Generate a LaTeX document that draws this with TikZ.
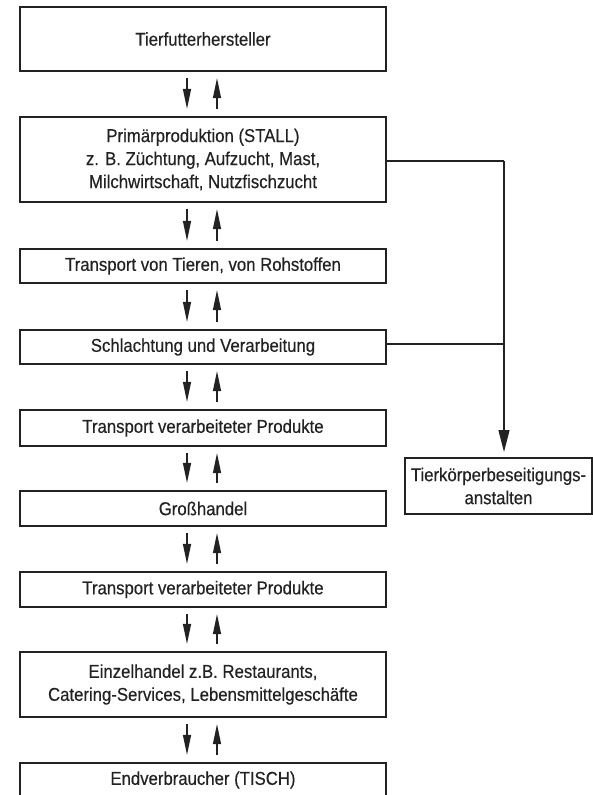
\documentclass[tikz,border=0pt]{standalone}
\usepackage{fontspec}
\setmainfont[FakeStretch=0.9,FakeBold=0.4]{Liberation Sans}
\usetikzlibrary{arrows.meta}
\definecolor{ink}{HTML}{222222}
\begin{document}
\begin{tikzpicture}[x=1pt,y=-1pt,
  box/.style={draw=ink, line width=2.2pt, minimum width=366pt, align=center, inner sep=0pt, text=ink, font=\fontsize{18.6}{23}\selectfont},
  sidebox/.style={draw=ink, line width=2pt, minimum width=187pt, minimum height=56pt, align=center, inner sep=0pt, text=ink, font=\fontsize{18.6}{23}\selectfont},
  flow/.style={draw=ink, line width=1.3pt, -{Triangle[length=20pt,width=8pt]}},
  sideline/.style={draw=ink, line width=1.3pt},
  sidearrow/.style={draw=ink, line width=1.3pt, -{Triangle[length=22pt,width=11pt]}}
]
\useasboundingbox (0,0) rectangle (593,795);
\clip (0,0) rectangle (593,795);

\node[box, minimum height=64pt] (b1) at (203,39) {Tierfutterhersteller};
\node[box, minimum height=85pt] (b2) at (203,159.5) {Primärproduktion (STALL)\\z. B. Züchtung, Aufzucht, Mast,\\Milchwirtschaft, Nutzfischzucht};
\node[box, minimum height=34pt] (b3) at (203,266) {Transport von Tieren, von Rohstoffen};
\node[box, minimum height=34pt] (b4) at (203,347) {Schlachtung und Verarbeitung};
\node[box, minimum height=36pt] (b5) at (203,428) {Transport verarbeiteter Produkte};
\node[box, minimum height=35pt] (b6) at (203,508.5) {Großhandel};
\node[box, minimum height=35pt] (b7) at (203,589.5) {Transport verarbeiteter Produkte};
\node[box, minimum height=65pt] (b8) at (203,684.5) {Einzelhandel z.B. Restaurants,\\Catering-Services, Lebensmittelgeschäfte};
\node[box, minimum height=34pt] (b9) at (203,780) {Endverbraucher (TISCH)};

\node[sidebox] (tk) at (498.5,486) {Tierkörperbeseitigungs-\\anstalten};

\coordinate (dx) at (187,0);
\coordinate (ux) at (217,0);
\coordinate (sx) at (504,0);

\foreach \a/\b in {b1/b2,b2/b3,b3/b4,b4/b5,b5/b6,b6/b7,b7/b8,b8/b9}{
  \draw[flow] ([yshift=-6pt]\a.south -| dx) -- ([yshift=7pt]\b.north -| dx);
  \draw[flow] ([yshift=7pt]\b.north -| ux) -- ([yshift=-6pt]\a.south -| ux);
}

\draw[sideline] ([yshift=-1.5pt]b2.east) -- ([yshift=-1.5pt]b2.east -| sx);
\draw[sideline] ([yshift=3pt]b4.east) -- ([yshift=3pt]b4.east -| sx);
\draw[sidearrow] ([yshift=-1.5pt]b2.east -| sx) -- ([yshift=5pt]tk.north -| sx);
\end{tikzpicture}
\end{document}
